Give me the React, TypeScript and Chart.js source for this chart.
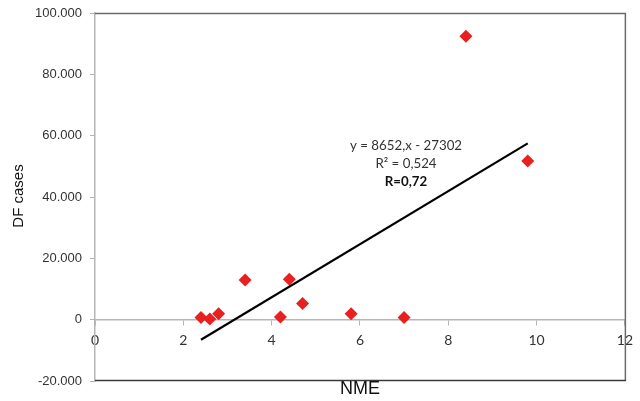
import React, { useEffect, useRef } from "react";
import { Chart, registerables } from "chart.js";

Chart.register(...registerables);

const nme = [2.4, 2.6, 2.8, 3.4, 4.2, 4.4, 4.7, 5.8, 7.0, 8.4, 9.8];
const dfCases = [700, 200, 1900, 12900, 900, 13200, 5300, 1900, 700, 92400, 51700];
const trendX = [2.4, 9.8];
const trendY = [-6537, 57488];
const annotationLines = ["y = 8652,x - 27302", "R² = 0,524", "R=0,72"];
const xTitle = "NME";
const yTitle = "DF cases";

const fmt = (v: number) => {
  const s = Math.abs(v).toString().replace(/\B(?=(\d{3})+(?!\d))/g, ".");
  return (v < 0 ? "-" : "") + s;
};

const decorPlugin = {
  id: "decor",
  beforeDatasetsDraw(chart: any) {
    const { ctx, chartArea } = chart;
    const { left, right, top, bottom } = chartArea;
    ctx.save();
    ctx.lineWidth = 1.5;
    ctx.strokeStyle = "#6b6b6b";
    ctx.beginPath();
    ctx.moveTo(left, top + 0.5);
    ctx.lineTo(right + 0.5, top + 0.5);
    ctx.lineTo(right + 0.5, bottom);
    ctx.stroke();
    ctx.strokeStyle = "#3a3a3a";
    ctx.beginPath();
    ctx.moveTo(left, bottom - 0.5);
    ctx.lineTo(right + 1, bottom - 0.5);
    ctx.stroke();
    ctx.restore();
  },
  afterDraw(chart: any) {
    const { ctx } = chart;
    ctx.save();
    ctx.fillStyle = "#111";
    ctx.textAlign = "center";
    ctx.textBaseline = "middle";
    ctx.font = "18px 'Liberation Sans', Arial, sans-serif";
    ctx.fillText(xTitle, 360, 389);
    ctx.save();
    ctx.translate(19, 196);
    ctx.rotate(-Math.PI / 2);
    ctx.font = "15px 'Liberation Sans', Arial, sans-serif";
    ctx.fillText(yTitle, 0, 0);
    ctx.restore();
    const cx = 406;
    const ys = [146, 164, 182];
    annotationLines.forEach((t, i) => {
      ctx.font = (i === 2 ? "bold " : "") + "13.3px Lato, sans-serif";
      ctx.fillStyle = i === 2 ? "#111" : "#333";
      ctx.fillText(t, cx, ys[i]);
    });
    ctx.restore();
  },
};

export default function App() {
  const ref = useRef<HTMLCanvasElement>(null);
  useEffect(() => {
    if (!ref.current) return;
    const chart = new Chart(ref.current, {
      type: "scatter",
      data: {
        datasets: [
          {
            type: "line",
            data: trendX.map((x, i) => ({ x, y: trendY[i] })),
            borderColor: "#000",
            borderWidth: 2.2,
            pointRadius: 0,
            fill: false,
          },
          {
            data: nme.map((x, i) => ({ x, y: dfCases[i] })),
            pointStyle: "rectRot",
            pointRadius: 6.5,
            backgroundColor: "#e8201f",
            borderColor: "#e8201f",
            borderWidth: 0,
          },
        ],
      },
      options: {
        animation: false,
        responsive: true,
        maintainAspectRatio: false,
        layout: { padding: { top: 13, right: 14, left: 0, bottom: 20 } },
        plugins: { legend: { display: false }, tooltip: { enabled: false } },
        scales: {
          x: {
            type: "linear",
            position: { y: 0 } as any,
            min: 0,
            max: 12,
            afterFit: (s: any) => {
              s.height = 20;
            },
            ticks: {
              stepSize: 2,
              padding: 7,
              color: "#333",
              font: { family: "Lato, sans-serif", size: 14 },
            },
            grid: { drawOnChartArea: false, drawTicks: true, tickLength: 5, color: "#b5b5b5" },
            border: { display: true, color: "#b5b5b5", width: 1.5 },
          },
          y: {
            type: "linear",
            min: -20000,
            max: 100000,
            afterFit: (s: any) => {
              s.width = 95;
              s.paddingTop = 0;
              s.paddingBottom = 0;
            },
            ticks: {
              stepSize: 20000,
              padding: 8,
              color: "#333",
              font: { family: "'Liberation Sans', Arial, sans-serif", size: 13 },
              callback: (v: any) => fmt(Number(v)),
            },
            grid: { drawOnChartArea: false, drawTicks: true, tickLength: 5, color: "#b5b5b5" },
            border: { display: true, color: "#b5b5b5", width: 1.5 },
          },
        },
      },
      plugins: [decorPlugin],
    });
    return () => chart.destroy();
  }, []);
  return (
    <div style={{ position: "fixed", left: 0, top: 0, width: 640, height: 401, background: "#fff" }}>
      <canvas ref={ref} />
    </div>
  );
}
